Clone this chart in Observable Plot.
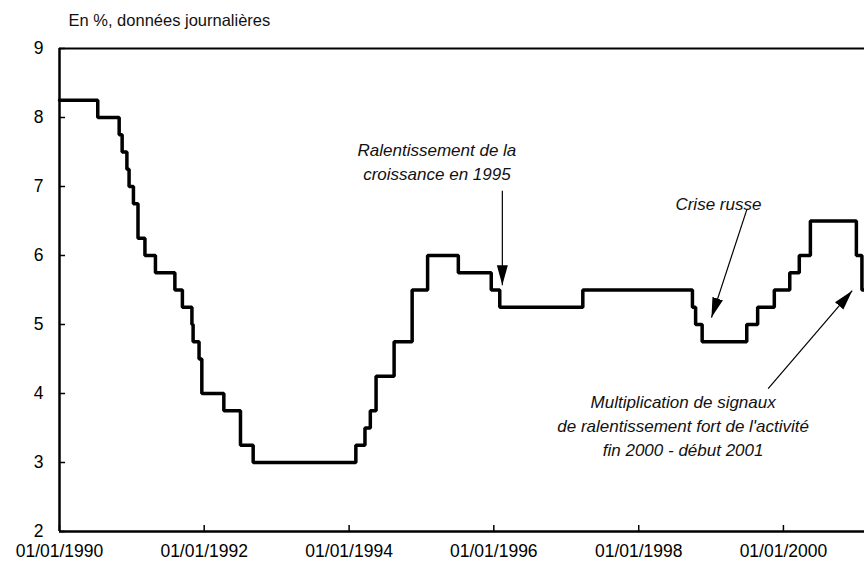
<!DOCTYPE html>
<html><head><meta charset="utf-8">
<script src="https://cdn.jsdelivr.net/npm/d3@7"></script>
<script src="https://cdn.jsdelivr.net/npm/@observablehq/plot@0.6"></script>
<style>body{margin:0;background:#fff}#chart{width:864px;height:574px}</style>
</head><body><div id="chart"></div>
<script>
// Taux directeur (fed funds target), dates de changement
const changeDates = ["1990-01-01","1990-07-13","1990-10-29","1990-11-13","1990-12-07","1990-12-18",
  "1991-01-09","1991-02-01","1991-03-08","1991-04-30","1991-08-06","1991-09-13","1991-10-31","1991-11-06",
  "1991-12-06","1991-12-20","1992-04-09","1992-07-02","1992-09-04","1994-02-04","1994-03-22","1994-04-18",
  "1994-05-17","1994-08-16","1994-11-15","1995-02-01","1995-07-06","1995-12-19","1996-01-31","1997-03-25",
  "1998-09-29","1998-10-15","1998-11-17","1999-06-30","1999-08-24","1999-11-16","2000-02-02","2000-03-21",
  "2000-05-16","2001-01-03","2001-01-31","2001-02-13"];
const targetRates = [8.25,8.00,7.75,7.50,7.25,7.00,
  6.75,6.25,6.00,5.75,5.50,5.25,5.00,4.75,
  4.50,4.00,3.75,3.25,3.00,3.25,3.50,3.75,
  4.25,4.75,5.50,6.00,5.75,5.50,5.25,5.50,
  5.25,5.00,4.75,5.00,5.25,5.50,5.75,6.00,
  6.50,6.00,5.50,5.50];
const xDomain = ["1990-01-01","2001-02-13"];
const yDomain = [2, 9];
const xTickDates = ["1990-01-01","1992-01-01","1994-01-01","1996-01-01","1998-01-01","2000-01-01"];
const yTicks = [2,3,4,5,6,7,8,9];
const subtitle = "En %, données journalières";
const noteTexts = ["Ralentissement de la\ncroissance en 1995", "Crise russe",
  "Multiplication de signaux\nde ralentissement fort de l'activité\nfin 2000 - début 2001"];
const noteDates = ["1995-03-20","1999-02-07","1998-08-13"];
const noteValues = [7.377, 6.77, 3.55];
const arrowFromDates = ["1996-02-13","1999-07-02","1999-10-16"];
const arrowFromValues = [6.94, 6.68, 4.07];
const arrowToDates = ["1996-02-13","1999-01-03","2000-12-13"];
const arrowToValues = [5.57, 5.10, 5.49];

const P = s => new Date(s + "T00:00:00Z");
const series = changeDates.map((d, i) => ({date: P(d), rate: targetRates[i]}));
const notes = noteTexts.map((t, i) => ({text: t, date: P(noteDates[i]), value: noteValues[i]}));
const arrows = arrowFromDates.map((d, i) => ({x1: P(d), y1: arrowFromValues[i], x2: P(arrowToDates[i]), y2: arrowToValues[i]}));
const fmt = d3.utcFormat("%d/%m/%Y");

const plot = Plot.plot({
  width: 864, height: 574,
  marginLeft: 59, marginRight: 0, marginTop: 48, marginBottom: 43,
  style: {fontFamily: "Liberation Sans, Arial, sans-serif", fontSize: "17px", color: "#000", background: "#fff"},
  x: {type: "utc", domain: xDomain.map(P)},
  y: {domain: yDomain},
  marks: [
    Plot.axisY(yTicks, {tickSize: -6, tickPadding: 22, strokeWidth: 1.5, fontSize: 17.5, tickFormat: d => String(d), label: null}),
    Plot.axisX(xTickDates.map(P), {tickSize: -6, tickPadding: 19, strokeWidth: 1.5, fontSize: 17.5, tickFormat: fmt, label: null}),
    Plot.ruleY([yDomain[0]], {strokeWidth: 2.5}),
    Plot.ruleY([yDomain[1]], {strokeWidth: 2}),
    Plot.ruleX([P(xDomain[0])], {strokeWidth: 2.5}),
    Plot.line(series, {x: "date", y: "rate", curve: "step-after", strokeWidth: 3.5, strokeLinejoin: "miter", stroke: "#000"}),
    Plot.link(arrows, {x1: "x1", y1: "y1", x2: "x2", y2: "y2", strokeWidth: 1.2, stroke: "#000"}),
    Plot.text(notes, {x: "date", y: "value", text: "text", fontStyle: "italic", fontSize: 17, lineHeight: 1.4, textAnchor: "middle", lineAnchor: "middle", fill: "#111"}),
    Plot.text([subtitle], {frameAnchor: "top-left", dx: 9, dy: -28, textAnchor: "start", lineAnchor: "middle", fontSize: 16.5, fill: "#111"})
  ]
});

// filled arrowheads
const svg = d3.select(plot);
const defs = svg.append("defs");
defs.append("marker").attr("id", "ah").attr("viewBox", "0 -6 20 12")
  .attr("refX", 20).attr("refY", 0).attr("markerWidth", 20).attr("markerHeight", 12)
  .attr("markerUnits", "userSpaceOnUse").attr("orient", "auto")
  .append("path").attr("d", "M0,-5.5L20,0L0,5.5Z").attr("fill", "#000");
svg.selectAll('g[aria-label="link"] path').attr("marker-end", "url(#ah)");

document.getElementById("chart").append(plot);
</script>
</body></html>
